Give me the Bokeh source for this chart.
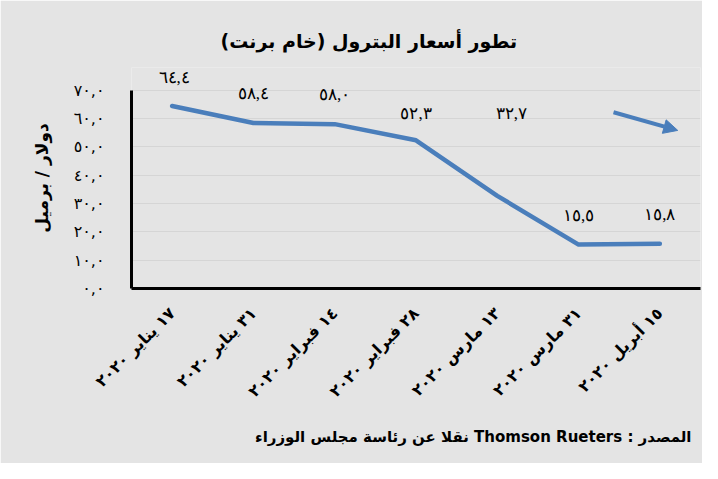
import math
from bokeh.plotting import figure
from bokeh.models import (ColumnDataSource, LabelSet, Arrow, NormalHead,
                          FixedTicker, Range1d, Title, FactorRange)
from bokeh.embed import file_html
from bokeh.resources import INLINE

# ---------------- data ----------------
dates = ["١٧ يناير ٢٠٢٠", "٣١ يناير ٢٠٢٠", "١٤ فبراير ٢٠٢٠", "٢٨ فبراير ٢٠٢٠",
         "١٣ مارس ٢٠٢٠", "٣١ مارس ٢٠٢٠", "١٥ أبريل ٢٠٢٠"]
prices = [64.4, 58.4, 58.0, 52.3, 32.7, 15.5, 15.8]
price_labels = ["٦٤,٤", "٥٨,٤", "٥٨,٠", "٥٢,٣", "٣٢,٧", "١٥,٥", "١٥,٨"]
y_ticks = [0, 10, 20, 30, 40, 50, 60, 70]
y_tick_labels = ["٠,٠", "١٠,٠", "٢٠,٠", "٣٠,٠", "٤٠,٠", "٥٠,٠", "٦٠,٠", "٧٠,٠"]

title_text = "تطور أسعار البترول (خام برنت)\u200f"
y_axis_title = "دولار / برميل"
footer_text = "\u202bالمصدر : Thomson Rueters نقلا عن رئاسة مجلس الوزراء\u202c"

# label placement (pixels)
label_dx = [2, 0, 0, 0, 14, 0, 0]
label_dy = [29, 30, 30, 27, 82, 29, 29]

# ---------------- style ----------------
BG = "#e4e4e4"
BLUE = "#4a7ebb"
AR_FONT = "DejaVu Sans"

p = figure(x_range=FactorRange(*dates), y_range=Range1d(0, 78),
           width=702, height=463, output_backend="svg", toolbar_location=None,
           min_border_left=131, min_border_right=2, min_border_top=67,
           min_border_bottom=175, background_fill_color=BG, border_fill_color=BG,
           outline_line_color=None)

p.title.text = title_text
p.title.text_font = AR_FONT
p.title.text_font_size = "19px"
p.title.text_font_style = "bold"
p.title.text_color = "black"
p.title.align = "left"
p.title.offset = 89
p.title.standoff = 32

footer = Title(text=footer_text, align="right", text_font=AR_FONT,
               text_font_size="15px", text_font_style="bold", text_color="black",
               offset=9, standoff=31)
p.add_layout(footer, "below")

# axes
p.xaxis.major_label_orientation = math.pi / 4
p.xaxis.major_tick_line_color = None
p.xaxis.minor_tick_line_color = None
p.xaxis.axis_line_width = 3
p.xaxis.axis_line_color = "black"
p.xaxis.major_label_text_font = AR_FONT
p.xaxis.major_label_text_font_style = "bold"
p.xaxis.major_label_text_font_size = "16px"
p.xaxis.major_label_text_color = "black"
p.xaxis.major_label_standoff = 16

p.yaxis.ticker = FixedTicker(ticks=y_ticks)
p.yaxis.bounds = (0, 70)
p.yaxis.major_label_overrides = dict(zip(y_ticks, y_tick_labels))
p.yaxis.major_tick_line_color = None
p.yaxis.minor_tick_line_color = None
p.yaxis.axis_line_width = 3
p.yaxis.axis_line_color = "black"
p.yaxis.major_label_text_font = AR_FONT
p.yaxis.major_label_text_font_size = "16px"
p.yaxis.major_label_text_color = "black"
p.yaxis.major_label_standoff = 21
p.yaxis.axis_label = y_axis_title
p.yaxis.axis_label_text_font = AR_FONT
p.yaxis.axis_label_text_font_size = "17px"
p.yaxis.axis_label_text_font_style = "bold"
p.yaxis.axis_label_text_color = "black"
p.yaxis.axis_label_standoff = 19

p.xgrid.grid_line_color = None
p.ygrid.grid_line_color = "#d5d5d5"
p.ygrid.grid_line_width = 1

src = ColumnDataSource(dict(x=dates, y=prices, lab=price_labels,
                            dx=label_dx, dy=label_dy))
p.line("x", "y", source=src, line_color=BLUE, line_width=4.5,
       line_join="round", line_cap="round")

labels = LabelSet(x="x", y="y", text="lab", source=src, x_offset="dx",
                  y_offset="dy", text_align="center", text_baseline="middle",
                  text_font=AR_FONT, text_font_size="17px", text_color="black")
p.add_layout(labels)

# decorative trend arrow
arrow_x = (5.93, 6.72)
arrow_y = (62.2, 55.8)
p.add_layout(Arrow(end=NormalHead(size=14, fill_color=BLUE, line_color=BLUE),
                   x_start=arrow_x[0], y_start=arrow_y[0],
                   x_end=arrow_x[1], y_end=arrow_y[1],
                   line_color=BLUE, line_width=4))

open("out.html", "w").write(file_html(p, INLINE))
